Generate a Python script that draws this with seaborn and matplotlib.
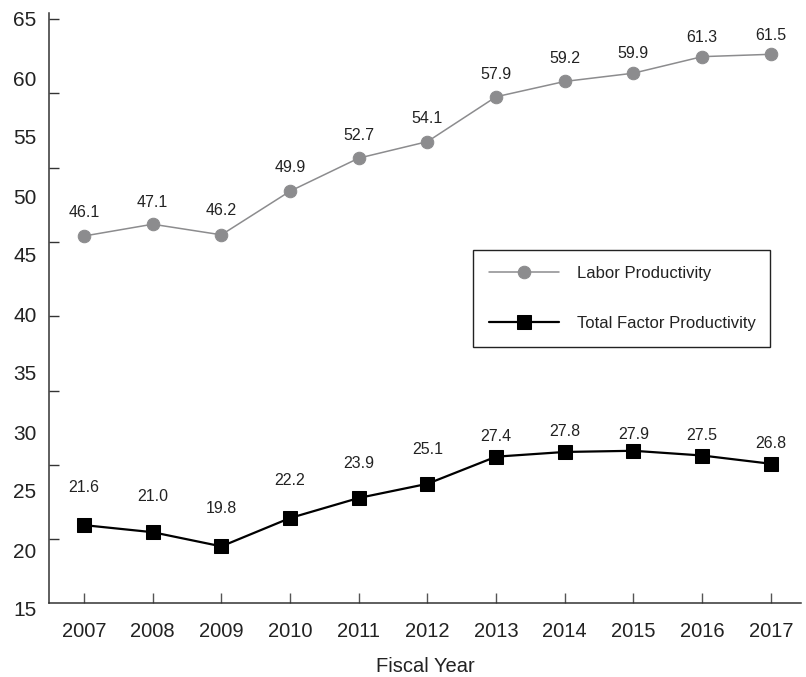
import numpy as np
import pandas as pd
import matplotlib
matplotlib.use("Agg")
import matplotlib.pyplot as plt
import matplotlib.transforms as mtransforms
import seaborn as sns

years = [2007, 2008, 2009, 2010, 2011, 2012, 2013, 2014, 2015, 2016, 2017]
labor = [46.1, 47.1, 46.2, 49.9, 52.7, 54.1, 57.9, 59.2, 59.9, 61.3, 61.5]
tfp = [21.6, 21.0, 19.8, 22.2, 23.9, 25.1, 27.4, 27.8, 27.9, 27.5, 26.8]
y_labels = [15, 20, 25, 30, 35, 40, 45, 50, 55, 60, 65]

# how far (px) each value label sits above its marker in the original
labor_offsets = [24, 22, 24, 24, 23, 23, 22, 23, 20, 19, 19]
tfp_offsets = [38, 36, 38, 38, 34, 34, 20, 20, 16, 20, 20]

sns.set_style('ticks')
plt.rcParams['font.family'] = ['Liberation Sans', 'DejaVu Sans']
text_col = '#222222'

fig = plt.figure(figsize=(8.06, 6.77), dpi=100)
ax = fig.add_axes([49 / 806, 74 / 677, 752 / 806, 590 / 677])

df = pd.DataFrame({'year': years, 'labor': labor, 'tfp': tfp})

sns.lineplot(data=df, x='year', y='labor', ax=ax, color='#8c8c8e', lw=1.1,
             marker='o', markersize=9, markeredgecolor='#8c8c8e',
             label='Labor Productivity')
sns.lineplot(data=df, x='year', y='tfp', ax=ax, color='black', lw=1.6,
             marker='s', markersize=9.5, markeredgecolor='black',
             label='Total Factor Productivity')

# value labels
for x, v, off in zip(years, labor, labor_offsets):
    ax.annotate(f'{v:.1f}', (x, v), xytext=(0, off), textcoords='offset pixels',
                ha='center', va='center', fontsize=11.5, color=text_col)
for x, v, off in zip(years, tfp, tfp_offsets):
    ax.annotate(f'{v:.1f}', (x, v), xytext=(0, off), textcoords='offset pixels',
                ha='center', va='center', fontsize=11.5, color=text_col)

ax.set_xlim(2006.49, 2017.44)
ax.set_ylim(15, 65)

# y labels every 5, tick marks drawn separately (they don't line up in the original)
ax.set_yticks(y_labels)
ax.set_yticklabels([str(v) for v in y_labels])
ax.set_yticks(64.5 - 6.3 * np.arange(8), minor=True)
ax.tick_params(axis='y', which='major', length=0, pad=9, labelsize=15, labelcolor=text_col)
ax.tick_params(axis='y', which='minor', direction='in', length=7, width=1, color='#333333')
offset = mtransforms.ScaledTranslation(0, -0.06, fig.dpi_scale_trans)
for lab in ax.yaxis.get_majorticklabels():
    lab.set_transform(lab.get_transform() + offset)

ax.set_xticks(years)
ax.set_xticklabels([str(y) for y in years])
ax.tick_params(axis='x', direction='in', length=7, width=1, color='#555555',
               pad=14, labelsize=14.5, labelcolor=text_col)

ax.set_xlabel('Fiscal Year', fontsize=14.5, color=text_col, labelpad=11)
ax.set_ylabel('')

sns.despine(ax=ax)
for s in ['left', 'bottom']:
    ax.spines[s].set_color('#333333')
    ax.spines[s].set_linewidth(1.1)

leg = ax.legend(loc='upper left', bbox_to_anchor=(0.564, 0.434, 0.395, 0.164),
                mode='expand', borderaxespad=0, frameon=True, fancybox=False,
                framealpha=1, edgecolor='#222222', handlelength=4.2,
                handletextpad=1.1, labelspacing=2.1, borderpad=0.95,
                prop={'family': ['Liberation Sans Narrow', 'Liberation Sans'], 'size': 12})
leg.get_frame().set_linewidth(1.0)
for t in leg.get_texts():
    t.set_color(text_col)

fig.savefig('out.png', dpi=100)
